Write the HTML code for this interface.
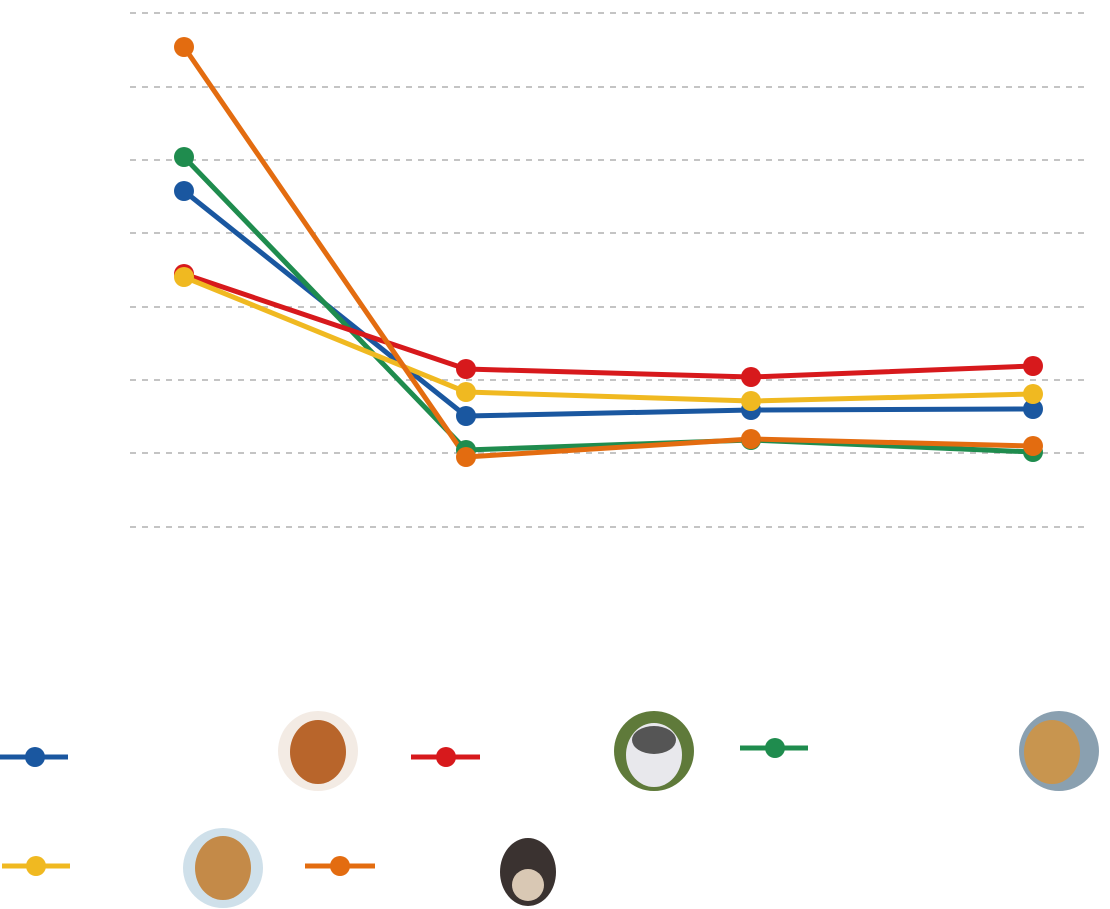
<!DOCTYPE html>
<html><head><meta charset="utf-8"><style>body{margin:0;background:#fff}svg{display:block}</style></head><body>
<svg width="1110" height="909" xmlns="http://www.w3.org/2000/svg">
<g stroke="#c4c4c4" stroke-width="2" stroke-dasharray="6,6">
<line x1="130" y1="13" x2="1090" y2="13"/><line x1="130" y1="87" x2="1090" y2="87"/>
<line x1="130" y1="160" x2="1090" y2="160"/><line x1="130" y1="233" x2="1090" y2="233"/>
<line x1="130" y1="307" x2="1090" y2="307"/><line x1="130" y1="380" x2="1090" y2="380"/>
<line x1="130" y1="453" x2="1090" y2="453"/><line x1="130" y1="527" x2="1090" y2="527"/>
</g>
<g fill="none" stroke-width="5" stroke-linejoin="round">
<polyline stroke="#1a57a0" points="184,191 466,416 751,410 1033,409"/>
<polyline stroke="#1f8c4e" points="184,157 466,450 751,440 1033,452"/>
<polyline stroke="#d7191c" points="184,274 466,369 751,377 1033,366"/>
<polyline stroke="#f0b921" points="184,277 466,392 751,401 1033,394"/>
<polyline stroke="#e36c10" points="184,47 466,457 751,439 1033,446"/>
</g>
<g fill="#1a57a0"><circle cx="184" cy="191" r="10"/><circle cx="466" cy="416" r="10"/><circle cx="751" cy="410" r="10"/><circle cx="1033" cy="409" r="10"/></g>
<g fill="#1f8c4e"><circle cx="184" cy="157" r="10"/><circle cx="466" cy="450" r="10"/><circle cx="751" cy="440" r="10"/><circle cx="1033" cy="452" r="10"/></g>
<g fill="#d7191c"><circle cx="184" cy="274" r="10"/><circle cx="466" cy="369" r="10"/><circle cx="751" cy="377" r="10"/><circle cx="1033" cy="366" r="10"/></g>
<g fill="#f0b921"><circle cx="184" cy="277" r="10"/><circle cx="466" cy="392" r="10"/><circle cx="751" cy="401" r="10"/><circle cx="1033" cy="394" r="10"/></g>
<g fill="#e36c10"><circle cx="184" cy="47" r="10"/><circle cx="466" cy="457" r="10"/><circle cx="751" cy="439" r="10"/><circle cx="1033" cy="446" r="10"/></g>
<g stroke-width="5">
<line x1="0" y1="757" x2="68" y2="757" stroke="#1a57a0"/><circle cx="35" cy="757" r="10" fill="#1a57a0"/>
<line x1="411" y1="757" x2="480" y2="757" stroke="#d7191c"/><circle cx="446" cy="757" r="10" fill="#d7191c"/>
<line x1="740" y1="748" x2="808" y2="748" stroke="#1f8c4e"/><circle cx="775" cy="748" r="10" fill="#1f8c4e"/>
<line x1="2" y1="866" x2="70" y2="866" stroke="#f0b921"/><circle cx="36" cy="866" r="10" fill="#f0b921"/>
<line x1="305" y1="866" x2="375" y2="866" stroke="#e36c10"/><circle cx="340" cy="866" r="10" fill="#e36c10"/>
</g>
<circle cx="318" cy="751" r="40" fill="#f3ebe4"/><ellipse cx="318" cy="752" rx="28" ry="32" fill="#b8652b"/>
<circle cx="654" cy="751" r="40" fill="#5f7a3a"/><ellipse cx="654" cy="755" rx="28" ry="32" fill="#e8e8ec"/><ellipse cx="654" cy="740" rx="22" ry="14" fill="#555"/>
<circle cx="1059" cy="751" r="40" fill="#8aa0b0"/><ellipse cx="1052" cy="752" rx="28" ry="32" fill="#c8954f"/>
<circle cx="223" cy="868" r="40" fill="#cfe0ea"/><ellipse cx="223" cy="868" rx="28" ry="32" fill="#c48a48"/>
<ellipse cx="528" cy="872" rx="28" ry="34" fill="#3a3230"/><ellipse cx="528" cy="885" rx="16" ry="16" fill="#d9c8b4"/>
</svg>
</body></html>
